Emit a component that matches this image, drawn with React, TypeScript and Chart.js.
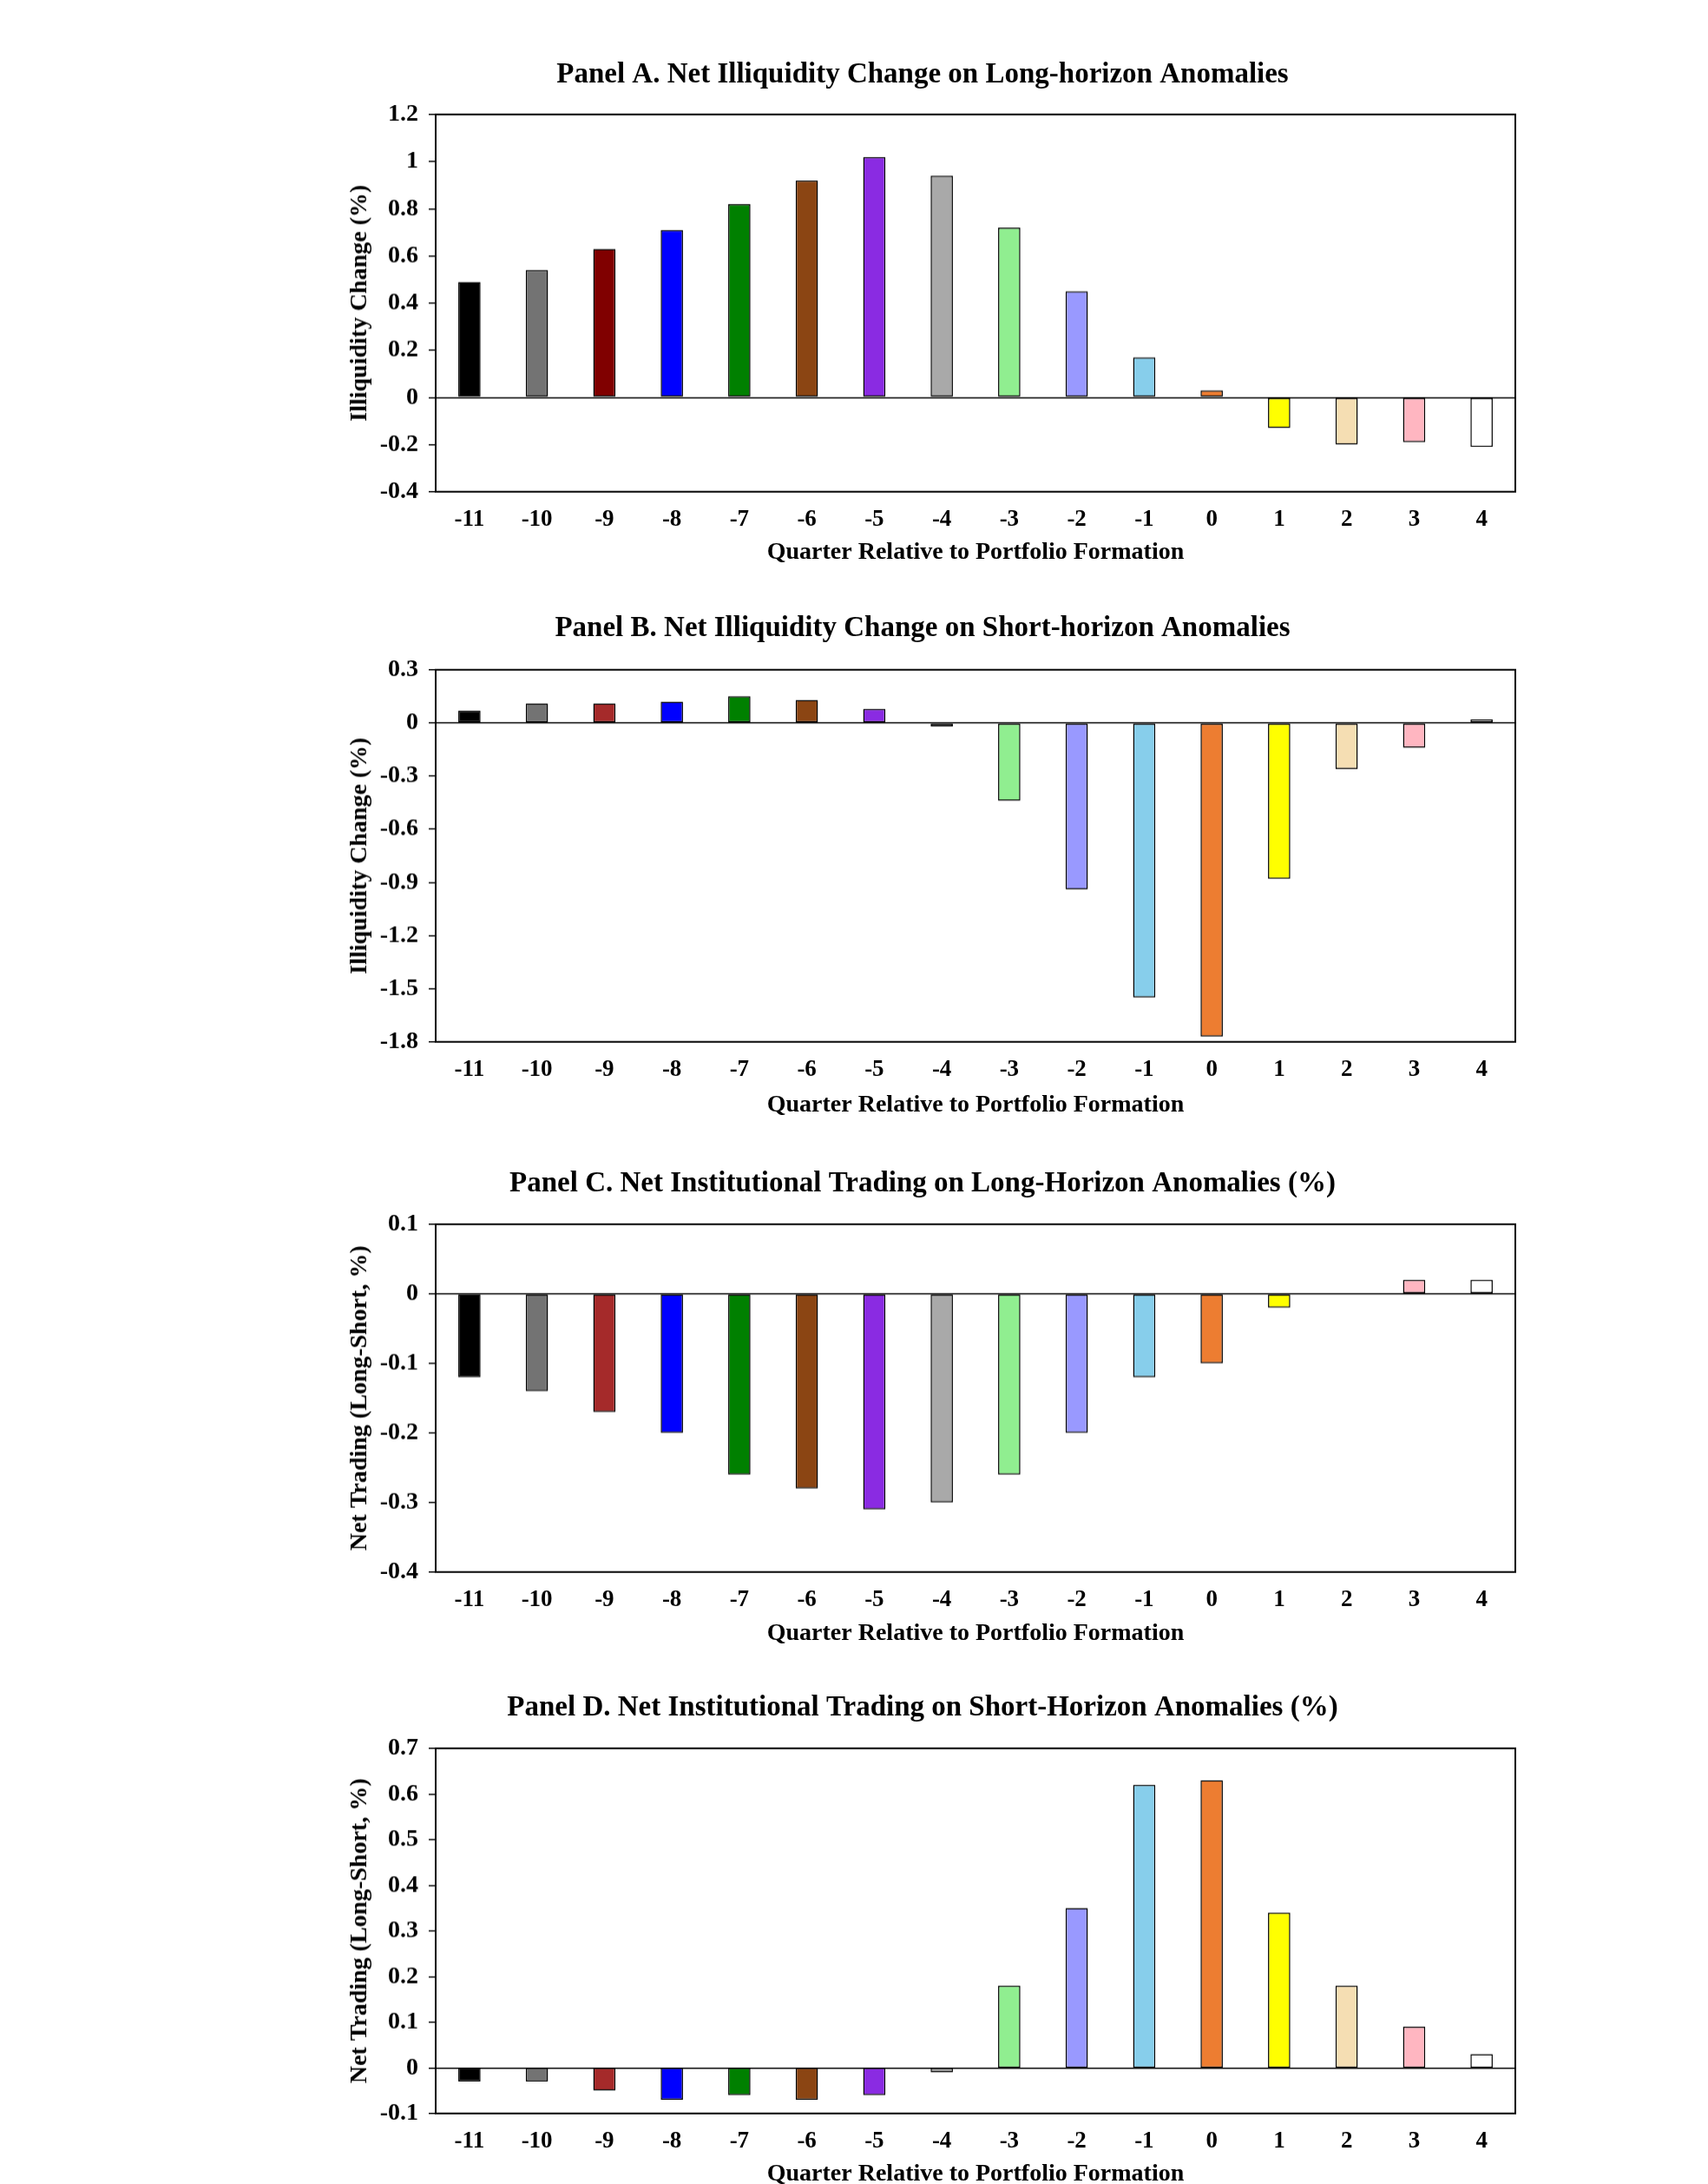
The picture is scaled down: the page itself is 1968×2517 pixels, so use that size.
import { useEffect, useRef } from "react";
import { Chart, registerables } from "chart.js";

Chart.register(...registerables);

// quarters relative to portfolio formation
const quarters = ["-11", "-10", "-9", "-8", "-7", "-6", "-5", "-4", "-3", "-2", "-1", "0", "1", "2", "3", "4"];

// Panel A: net illiquidity change, long-horizon anomalies (%)
const illiqLong = [0.49, 0.54, 0.63, 0.71, 0.82, 0.92, 1.02, 0.94, 0.72, 0.45, 0.17, 0.03, -0.13, -0.2, -0.19, -0.21];
// Panel B: net illiquidity change, short-horizon anomalies (%)
const illiqShort = [0.07, 0.11, 0.11, 0.12, 0.15, 0.13, 0.08, -0.02, -0.44, -0.94, -1.55, -1.77, -0.88, -0.26, -0.14, 0.02];
// Panel C: net institutional trading, long-horizon anomalies (%)
const tradeLong = [-0.12, -0.14, -0.17, -0.2, -0.26, -0.28, -0.31, -0.3, -0.26, -0.2, -0.12, -0.1, -0.02, 0, 0.02, 0.02];
// Panel D: net institutional trading, short-horizon anomalies (%)
const tradeShort = [-0.03, -0.03, -0.05, -0.07, -0.06, -0.07, -0.06, -0.01, 0.18, 0.35, 0.62, 0.63, 0.34, 0.18, 0.09, 0.03];

const colorsA = ["#000000", "#737373", "#800000", "#0000FF", "#008000", "#8B4513", "#8A2BE2", "#A9A9A9", "#90EE90", "#9999FF", "#87CEEB", "#ED7D31", "#FFFF00", "#F5DEB3", "#FFB6C1", "#FFFFFF"];
const colorsRest = ["#000000", "#737373", "#A52A2A", "#0000FF", "#008000", "#8B4513", "#8A2BE2", "#A9A9A9", "#90EE90", "#9999FF", "#87CEEB", "#ED7D31", "#FFFF00", "#F5DEB3", "#FFB6C1", "#FFFFFF"];

const FONT = "'Liberation Serif', 'Times New Roman', serif";
const LEFT = 380;
const WIDTH = 1380;
const Y_AXIS_W = 122;
const TITLE_SIZE = 33;
const AXIS_SIZE = 28;
const YTICK_SIZE = 28;
const XTICK_SIZE = 27;

interface PanelProps {
  title: string;
  yTitle: string;
  values: number[];
  colors: string[];
  min: number;
  max: number;
  step: number;
  titleY: number;
  plotTop: number;
  plotBottom: number;
  xTitleY: number;
}

// draws the box around the plot area
const framePlugin = {
  id: "frame",
  afterDraw(chart: Chart) {
    const { ctx, chartArea } = chart;
    ctx.save();
    ctx.strokeStyle = "#000";
    ctx.lineWidth = 2;
    ctx.strokeRect(chartArea.left, chartArea.top, chartArea.right - chartArea.left, chartArea.bottom - chartArea.top);
    ctx.restore();
  },
};

const Panel = (p: PanelProps) => {
  const canvasRef = useRef<HTMLCanvasElement | null>(null);
  const titleLH = TITLE_SIZE * 1.2;
  const axisLH = AXIS_SIZE * 1.2;
  const top = p.titleY - titleLH / 2;
  const bottom = p.xTitleY + axisLH / 2;
  const xAxisH = bottom - p.plotBottom;

  useEffect(() => {
    if (!canvasRef.current) return;
    const chart = new Chart(canvasRef.current, {
      type: "bar",
      data: {
        labels: quarters,
        datasets: [
          {
            data: p.values,
            backgroundColor: p.colors,
            borderColor: "#000",
            borderWidth: 1.5,
            borderSkipped: false,
            barPercentage: 0.33,
            categoryPercentage: 1,
          },
        ],
      },
      options: {
        animation: false,
        responsive: true,
        maintainAspectRatio: false,
        layout: { padding: { left: 0, right: 14, top: 0, bottom: 0 } },
        plugins: {
          legend: { display: false },
          tooltip: { enabled: false },
          title: {
            display: true,
            text: p.title,
            color: "#000",
            font: { family: FONT, size: TITLE_SIZE, weight: "bold", lineHeight: 1.2 },
            padding: { top: 0, bottom: p.plotTop - p.titleY - titleLH / 2 },
          },
        },
        scales: {
          x: {
            grid: { display: false },
            border: { display: false },
            ticks: { color: "#000", padding: 8, font: { family: FONT, size: XTICK_SIZE, weight: "bold" } },
            title: {
              display: true,
              text: "Quarter Relative to Portfolio Formation",
              color: "#000",
              font: { family: FONT, size: AXIS_SIZE, weight: "bold", lineHeight: 1.2 },
              padding: { top: 0, bottom: 0 },
            },
            afterFit: (scale: any) => {
              scale.height = xAxisH;
            },
          },
          y: {
            min: p.min,
            max: p.max,
            border: { display: false },
            grid: {
              drawTicks: true,
              tickLength: 8,
              tickColor: "#000",
              tickWidth: 1.5,
              lineWidth: 1.5,
              color: (ctx: any) => (ctx.tick && Math.abs(ctx.tick.value) < 1e-9 ? "#000" : "rgba(0,0,0,0)"),
            },
            ticks: {
              stepSize: p.step,
              color: "#000",
              padding: 12,
              font: { family: FONT, size: YTICK_SIZE, weight: "bold" },
              callback: (v: any) => String(Number(Number(v).toFixed(2))),
            },
            title: {
              display: true,
              text: p.yTitle,
              color: "#000",
              font: { family: FONT, size: AXIS_SIZE, weight: "bold", lineHeight: 1.2 },
              padding: { top: 18, bottom: 0 },
            },
            afterFit: (scale: any) => {
              scale.width = Y_AXIS_W;
            },
          },
        },
      },
      plugins: [framePlugin],
    });
    return () => chart.destroy();
  }, []);

  return (
    <div style={{ position: "absolute", left: LEFT, top, width: WIDTH, height: bottom - top }}>
      <canvas ref={canvasRef}></canvas>
    </div>
  );
};

export default function App() {
  return (
    <div style={{ position: "absolute", left: 0, top: 0, width: 1968, height: 2517, overflow: "hidden", background: "#fff" }}>
      <Panel
        title="Panel A. Net Illiquidity Change on Long-horizon Anomalies"
        yTitle="Illiquidity Change (%)"
        values={illiqLong}
        colors={colorsA}
        min={-0.4}
        max={1.2}
        step={0.2}
        titleY={87}
        plotTop={132}
        plotBottom={566}
        xTitleY={636}
      />
      <Panel
        title="Panel B. Net Illiquidity Change on Short-horizon Anomalies"
        yTitle="Illiquidity Change (%)"
        values={illiqShort}
        colors={colorsRest}
        min={-1.8}
        max={0.3}
        step={0.3}
        titleY={725}
        plotTop={772}
        plotBottom={1200}
        xTitleY={1273}
      />
      <Panel
        title="Panel C. Net Institutional Trading on Long-Horizon Anomalies (%)"
        yTitle="Net Trading (Long-Short, %)"
        values={tradeLong}
        colors={colorsRest}
        min={-0.4}
        max={0.1}
        step={0.1}
        titleY={1365}
        plotTop={1411}
        plotBottom={1811}
        xTitleY={1882}
      />
      <Panel
        title="Panel D. Net Institutional Trading on Short-Horizon Anomalies (%)"
        yTitle="Net Trading (Long-Short, %)"
        values={tradeShort}
        colors={colorsRest}
        min={-0.1}
        max={0.7}
        step={0.1}
        titleY={1969}
        plotTop={2015}
        plotBottom={2435}
        xTitleY={2505}
      />
    </div>
  );
}
